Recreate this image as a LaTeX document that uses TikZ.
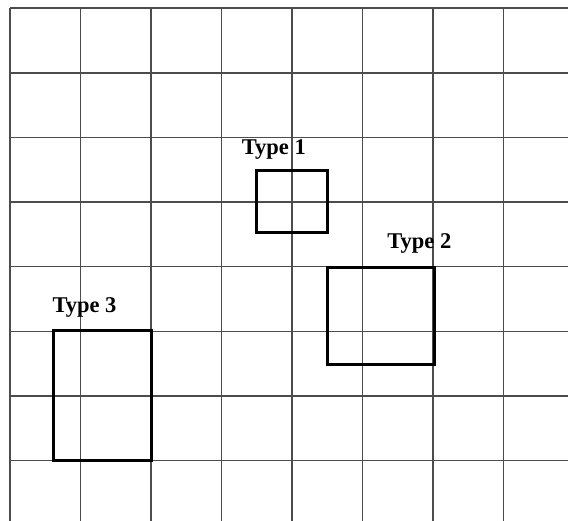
\documentclass[tikz,border=0pt]{standalone}
\usepackage{fontspec}
\setmainfont{Liberation Serif}
\usetikzlibrary{positioning}

\begin{document}
\begin{tikzpicture}[
    x=1pt, y=-1pt,
    gridline/.style={draw=black!70, line width=1.4pt},
    typebox/.style={draw=black, line width=3pt, inner sep=0pt},
    typelabel/.style={anchor=base, inner sep=0pt,
                      font=\fontsize{22.5}{26}\selectfont\bfseries},
  ]
  \useasboundingbox (0,0) rectangle (568,521);
  % Grid
  \foreach \gx in {10,80.5,151,221.5,292,362.5,433,503.5}
    \draw[gridline] (\gx,8) -- (\gx,521);
  \foreach \gy in {8,73,137.5,202,266.5,331.5,396,460.5}
    \draw[gridline] (10,\gy) -- (568,\gy);
  % Boxes
  \node[typebox, minimum width=71, minimum height=62.3]  (box1) at (292.2,201.2) {};
  \node[typebox, minimum width=106.7, minimum height=96.7] (box2) at (380.7,315.7) {};
  \node[typebox, minimum width=97.7, minimum height=129]  (box3) at (102.8,395.5) {};
  % Labels
  \node[typelabel] (lab1) at (273.8,155) {Type 1};
  \node[typelabel] (lab2) at (419.3,249) {Type 2};
  \node[typelabel] (lab3) at (84.5,313)  {Type 3};
\end{tikzpicture}
\end{document}
